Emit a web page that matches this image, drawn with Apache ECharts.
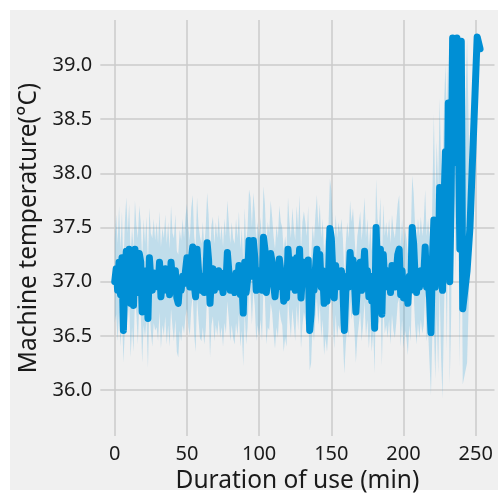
<!DOCTYPE html>
<html>
<head>
<meta charset="utf-8">
<script src="https://cdn.jsdelivr.net/npm/echarts@6/dist/echarts.min.js"></script>
<style>
  html, body { margin: 0; padding: 0; background: #ffffff; }
  #panel { position: absolute; left: 10px; top: 10px; width: 488px; height: 480px; background: #f0f0f0; }
  #chart { position: absolute; left: 0; top: 0; width: 498px; height: 500px; }
</style>
</head>
<body>
<div id="panel"></div>
<div id="chart"></div>
<script>
// Minutes of use at which the temperature was aggregated
const durations = [
  0,1,2,3,4,5,6,7,8,9,10,11,12,13,14,15,16,17,18,19,
  20,21,22,23,24,25,26,27,28,29,30,31,32,33,34,35,36,37,38,39,
  40,41,42,43,44,45,46,47,48,49,50,51,52,53,54,55,56,57,58,59,
  60,61,62,63,64,65,66,67,68,69,70,71,72,73,74,75,76,77,78,79,
  80,81,82,83,84,85,86,87,88,89,90,91,92,93,94,95,96,97,98,99,
  100,101,102,103,104,105,106,107,108,109,110,111,112,113,114,115,116,117,118,119,
  120,121,122,123,124,125,126,127,128,129,130,131,132,133,134,135,136,137,138,139,
  140,141,142,143,144,145,146,147,148,149,150,151,152,153,154,155,156,157,158,159,
  160,161,162,163,164,165,166,167,168,169,170,171,172,173,174,175,176,177,178,179,
  180,181,182,183,184,185,186,187,188,189,190,191,192,193,194,195,196,197,198,199,
  200,201,202,203,204,205,206,207,208,209,210,211,212,213,214,215,216,217,218,219,
  220,221,222,223,224,225,226,227,228,229,230,231,232,233,234,235,236,237,238,239,
  240,241,244,246,251,253
];

// Mean machine temperature (°C) at each duration
const meanTemp = [
  37.00,37.12,36.92,37.18,36.88,37.22,36.55,37.05,37.28,37.10,
  37.30,36.80,37.02,36.78,37.30,37.15,36.90,37.26,37.18,36.72,
  37.05,36.95,37.10,36.66,37.22,37.02,36.92,37.08,36.98,37.05,
  36.95,37.18,36.86,37.02,36.96,37.12,36.92,37.06,36.88,37.18,
  37.02,36.95,37.10,36.85,36.80,37.00,36.92,37.05,36.98,37.10,
  37.22,37.05,36.95,37.20,37.32,36.98,36.86,37.30,37.10,36.95,
  36.92,37.05,36.90,37.02,37.36,37.20,36.80,37.05,37.12,36.92,
  37.05,36.96,37.10,36.95,37.02,36.90,37.08,36.98,37.27,37.10,
  36.92,37.05,36.95,36.90,37.08,36.96,37.15,36.88,37.02,36.71,
  37.18,36.90,37.02,37.38,37.35,37.05,37.38,37.22,36.92,37.05,
  36.95,37.10,36.92,37.41,37.30,36.90,37.05,37.00,37.26,37.18,
  36.98,36.86,37.02,36.95,37.21,37.10,37.05,36.82,36.95,36.85,
  37.30,37.10,36.95,37.20,37.05,36.92,37.22,37.02,37.30,36.85,
  37.05,37.18,37.10,36.98,37.20,36.55,36.70,37.05,36.92,37.12,
  37.30,37.05,37.25,36.95,37.10,36.80,36.95,36.82,37.02,37.49,
  37.40,37.10,36.85,37.15,36.95,37.05,37.00,37.10,36.95,36.55,
  36.90,37.05,36.95,37.27,37.10,37.20,37.00,36.72,36.95,37.05,
  37.18,36.92,37.05,37.28,36.95,37.10,36.86,37.05,36.82,37.00,
  36.57,37.50,37.10,37.05,37.30,36.70,37.25,36.98,37.05,36.95,
  37.10,36.90,37.15,37.02,36.95,37.08,37.25,37.30,36.88,37.10,
  36.85,37.02,36.95,36.80,37.05,36.92,37.50,37.35,37.05,36.90,
  37.08,36.95,37.10,36.98,37.05,37.32,36.95,37.05,36.85,36.53,
  37.20,37.57,36.95,37.55,37.00,37.87,37.20,36.92,37.70,38.20,
  37.40,38.65,37.00,37.80,39.25,39.26,38.10,39.25,38.40,37.30,
  39.22,36.75,37.10,37.50,39.26,39.15
];

// Upper bound of the confidence band (°C)
const ciHigh = [
  37.40,37.62,37.35,37.70,37.30,37.65,37.10,37.55,37.78,37.45,
  37.72,37.25,37.50,37.30,37.75,37.52,37.40,37.70,37.55,37.20,
  37.58,37.35,37.60,37.15,37.68,37.45,37.40,37.58,37.38,37.55,
  37.35,37.65,37.32,37.50,37.40,37.62,37.35,37.55,37.30,37.70,
  37.45,37.40,37.62,37.28,37.25,37.48,37.38,37.58,37.40,37.60,
  37.72,37.50,37.38,37.68,37.80,37.42,37.30,37.78,37.52,37.42,
  37.35,37.55,37.32,37.50,37.82,37.62,37.25,37.52,37.60,37.35,
  37.55,37.40,37.62,37.38,37.52,37.32,37.58,37.42,37.75,37.55,
  37.35,37.55,37.40,37.35,37.58,37.40,37.65,37.30,37.50,37.18,
  37.68,37.35,37.50,37.85,37.78,37.50,37.82,37.65,37.38,37.55,
  37.40,37.60,37.35,37.88,37.72,37.35,37.55,37.45,37.75,37.60,
  37.42,37.30,37.52,37.40,37.70,37.55,37.50,37.28,37.42,37.30,
  37.78,37.55,37.40,37.68,37.50,37.38,37.70,37.48,37.80,37.30,
  37.55,37.65,37.55,37.42,37.70,37.05,37.20,37.52,37.38,37.62,
  37.80,37.50,37.72,37.40,37.58,37.25,37.42,37.28,37.50,37.95,
  37.85,37.55,37.30,37.62,37.40,37.55,37.45,37.58,37.40,37.05,
  37.35,37.55,37.40,37.75,37.55,37.68,37.45,37.18,37.42,37.52,
  37.65,37.38,37.55,37.78,37.40,37.58,37.30,37.52,37.28,37.48,
  37.05,37.95,37.58,37.50,37.78,37.15,37.72,37.42,37.55,37.40,
  37.58,37.35,37.62,37.48,37.40,37.55,37.72,37.80,37.32,37.58,
  37.30,37.50,37.40,37.25,37.55,37.38,37.98,37.82,37.52,37.35,
  37.58,37.42,37.60,37.42,37.55,37.85,37.42,37.58,37.40,37.15,
  37.80,38.55,37.75,38.30,37.85,38.70,38.10,37.90,38.60,39.00,
  38.50,39.15,38.10,38.90,39.26,39.26,39.20,39.26,39.25,38.70,
  39.26,37.60,39.25,37.80,39.26,39.20
];

// Lower bound of the confidence band (°C)
const ciLow = [
  36.62,36.70,36.45,36.72,36.40,36.75,36.25,36.55,36.85,36.62,
  36.82,36.30,36.58,36.35,36.85,36.70,36.42,36.80,36.72,36.25,
  36.60,36.48,36.65,36.20,36.78,36.55,36.40,36.62,36.55,36.58,
  36.45,36.72,36.38,36.60,36.50,36.68,36.42,36.60,36.40,36.75,
  36.58,36.45,36.65,36.35,36.30,36.55,36.45,36.60,36.52,36.68,
  36.75,36.58,36.50,36.75,36.88,36.52,36.35,36.85,36.65,36.48,
  36.45,36.58,36.42,36.55,36.90,36.75,36.30,36.60,36.68,36.45,
  36.60,36.50,36.65,36.48,36.58,36.40,36.62,36.52,36.82,36.65,
  36.45,36.60,36.48,36.42,36.62,36.50,36.70,36.40,36.55,36.22,
  36.72,36.42,36.58,36.92,36.90,36.60,36.92,36.78,36.45,36.60,
  36.48,36.65,36.45,36.95,36.85,36.42,36.58,36.55,36.80,36.72,
  36.52,36.38,36.58,36.48,36.75,36.65,36.60,36.35,36.48,36.40,
  36.85,36.65,36.48,36.75,36.60,36.45,36.78,36.55,36.85,36.38,
  36.60,36.72,36.65,36.52,36.75,36.18,36.25,36.60,36.45,36.68,
  36.85,36.60,36.80,36.48,36.65,36.32,36.48,36.35,36.55,37.05,
  36.95,36.65,36.38,36.70,36.48,36.60,36.55,36.65,36.48,36.15,
  36.42,36.60,36.48,36.82,36.65,36.75,36.55,36.25,36.48,36.60,
  36.72,36.45,36.60,36.82,36.48,36.65,36.38,36.60,36.35,36.55,
  36.15,37.05,36.65,36.60,36.85,36.22,36.80,36.52,36.60,36.48,
  36.65,36.42,36.70,36.55,36.48,36.62,36.80,36.85,36.40,36.65,
  36.38,36.55,36.48,36.32,36.60,36.45,37.05,36.90,36.60,36.42,
  36.62,36.48,36.65,36.52,36.60,36.88,36.45,36.55,36.25,35.95,
  36.55,36.60,36.10,36.70,36.15,36.95,36.30,35.92,36.70,37.30,
  36.35,37.90,36.05,36.70,38.40,38.80,37.00,38.50,37.40,36.20,
  38.30,36.05,36.25,37.20,39.20,39.10
];

// Axis tick positions
const xTicks = [0, 50, 100, 150, 200, 250];
const yTicks = [36.0, 36.5, 37.0, 37.5, 38.0, 38.5, 39.0];

const FONT = '"Noto Sans", "DejaVu Sans", sans-serif';
const TEXT = '#1a1a1a';
const GRID = '#cbcbcb';
const BLUE = '#008fd5';

const linePoints = durations.map((d, i) => [d, meanTemp[i]]);
const bandPoints = durations.map((d, i) => [d, ciLow[i], ciHigh[i]]);

const chart = echarts.init(document.getElementById('chart'), null, { renderer: 'canvas' });

chart.setOption({
  backgroundColor: 'transparent',
  animation: false,
  grid: { left: 100.3, right: 3.5, top: 20, bottom: 64 },
  xAxis: {
    type: 'value',
    min: -10,
    max: 263,
    name: 'Duration of use (min)',
    nameLocation: 'middle',
    nameGap: 33,
    nameTextStyle: { fontFamily: FONT, fontSize: 24.5, color: TEXT },
    axisLine: { show: false },
    axisTick: { show: false, customValues: xTicks },
    axisLabel: { customValues: xTicks, fontFamily: FONT, fontSize: 20, color: TEXT, margin: 8 },
    splitLine: { show: true, lineStyle: { color: GRID, width: 1.5 } }
  },
  yAxis: {
    type: 'value',
    min: 35.575,
    max: 39.416,
    name: 'Machine temperature(°C)',
    nameLocation: 'middle',
    nameGap: 55,
    nameTextStyle: { fontFamily: FONT, fontSize: 24.5, color: TEXT },
    axisLine: { show: false },
    axisTick: { show: false, customValues: yTicks },
    axisLabel: {
      customValues: yTicks,
      fontFamily: FONT, fontSize: 20, color: TEXT, margin: 8,
      formatter: v => v.toFixed(1)
    },
    splitLine: { show: true, lineStyle: { color: GRID, width: 1.5 } }
  },
  series: [
    {
      // confidence band drawn as one polygon through the axis scales
      type: 'custom',
      silent: true,
      z: 1,
      data: bandPoints,
      encode: { x: 0, y: [1, 2] },
      renderItem: function (params, api) {
        if (params.dataIndex !== 0) return null;
        const upper = bandPoints.map(p => api.coord([p[0], p[2]]));
        const lower = bandPoints.map(p => api.coord([p[0], p[1]])).reverse();
        return {
          type: 'polygon',
          shape: { points: upper.concat(lower) },
          style: { fill: 'rgba(0,143,213,0.2)', stroke: null }
        };
      }
    },
    {
      type: 'line',
      z: 2,
      data: linePoints,
      showSymbol: false,
      symbol: 'none',
      lineStyle: { color: BLUE, width: 7, cap: 'round', join: 'round' }
    }
  ]
});
</script>
</body>
</html>
